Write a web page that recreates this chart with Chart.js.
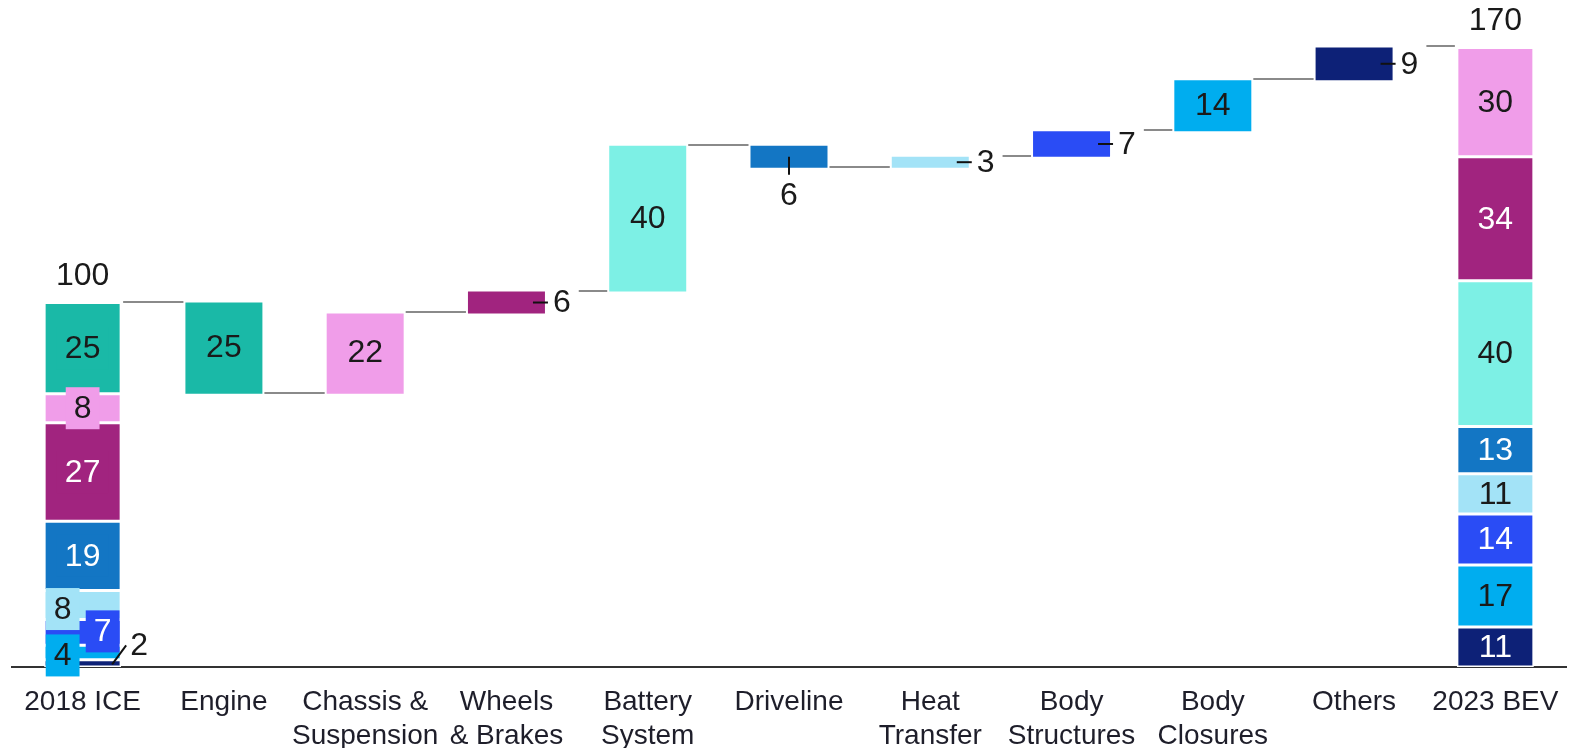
<!DOCTYPE html>
<html>
<head>
<meta charset="utf-8">
<script src="https://cdn.jsdelivr.net/npm/chart.js@4.4.0/dist/chart.umd.min.js"></script>
<style>
  body { margin: 0; background: #fff; }
  #wrap { width: 1570px; height: 748px; }
</style>
</head>
<body>
<div id="wrap"><canvas id="waterfall"></canvas></div>
<script>
// x categories of the waterfall
const categories = ['2018 ICE', 'Engine', ['Chassis &', 'Suspension'], ['Wheels', '& Brakes'],
    ['Battery', 'System'], 'Driveline', ['Heat', 'Transfer'], ['Body', 'Structures'],
    ['Body', 'Closures'], 'Others', '2023 BEV'];

// components, in stacking order (bottom to top)
const components = ['Others', 'Body Closures', 'Body Structures', 'Heat Transfer', 'Driveline',
    'Battery System', 'Wheels & Brakes', 'Chassis & Suspension', 'Engine'];
const ice2018 = [2, 4, 7, 8, 19, 0, 27, 8, 25];
const bev2023 = [11, 17, 14, 11, 13, 40, 34, 30, 0];

// steps between the two totals, one per middle category
const stepValues = [-25, 22, 6, 40, -6, 3, 7, 14, 9];
const stepComponent = [8, 7, 6, 5, 4, 3, 2, 1, 0];

const colors = ['#0d2177', '#00adef', '#2a4cf5', '#a3e3f7', '#1376c4',
    '#7df0e5', '#a1247f', '#f09de9', '#1ab9a7'];
const whiteText = [true, false, true, false, true, false, true, false, false];
const DARK = '#1a1a1a';

function stackRanges(values) {
    let acc = 0;
    return values.map((v) => {
        const r = [acc, acc + v];
        acc += v;
        return v ? r : null;
    });
}

const iceRanges = stackRanges(ice2018);
const bevRanges = stackRanges(bev2023);
const totals = [ice2018.reduce((a, b) => a + b, 0)];
stepValues.forEach((v) => totals.push(totals[totals.length - 1] + v));
const bevTotal = bev2023.reduce((a, b) => a + b, 0);

const datasets = components.map((name, c) => {
    const data = categories.map(() => null);
    data[0] = iceRanges[c];
    const k = stepComponent.indexOf(c);
    data[k + 1] = [totals[k], totals[k + 1]];
    data[categories.length - 1] = bevRanges[c];
    return {
        label: name,
        data: data,
        backgroundColor: colors[c],
        borderColor: '#ffffff',
        borderWidth: (ctx) => (ctx.dataIndex === 0 || ctx.dataIndex === categories.length - 1) ? 1.5 : 0,
        borderSkipped: false,
        grouped: false,
        barPercentage: 0.545,
        categoryPercentage: 1
    };
});

// where the step labels go
const stepLabelPos = ['in', 'in', 'right', 'in', 'below', 'right', 'right', 'in', 'right'];
// nudges for the crowded labels at the bottom of the 2018 column
const iceShift = { 1: [-20, 3], 2: [20, -1], 3: [-20, 4] };

function barBox(chart, i) {
    for (let d = 0; d < chart.data.datasets.length; d++) {
        if (chart.data.datasets[d].data[i]) {
            const el = chart.getDatasetMeta(d).data[i];
            const top = Math.min(el.y, el.base), bottom = Math.max(el.y, el.base);
            return { x: el.x, left: el.x - el.width / 2, right: el.x + el.width / 2, top, bottom };
        }
    }
    return null;
}

function drawText(ctx, str, x, y, color, align) {
    ctx.fillStyle = color;
    ctx.textAlign = align || 'center';
    ctx.textBaseline = 'middle';
    ctx.fillText(str, x, y);
}

function tick(ctx, x1, y1, x2, y2) {
    ctx.strokeStyle = '#111';
    ctx.lineWidth = 2;
    ctx.beginPath();
    ctx.moveTo(x1, y1);
    ctx.lineTo(x2, y2);
    ctx.stroke();
}

const waterfallLabels = {
    id: 'waterfallLabels',
    afterDraw(chart) {
        const ctx = chart.ctx;
        const yScale = chart.scales.y;
        const n = categories.length;
        ctx.save();
        ctx.font = "32px 'Liberation Sans', Arial, sans-serif";

        const labelEnd = [];
        // step labels
        stepValues.forEach((v, k) => {
            const i = k + 1;
            const b = barBox(chart, i);
            const cy = (b.top + b.bottom) / 2;
            const c = stepComponent[k];
            const str = String(Math.abs(v));
            const pos = stepLabelPos[k];
            if (pos === 'in') {
                drawText(ctx, str, b.x, cy, whiteText[c] ? '#fff' : DARK);
            }
            else if (pos === 'right') {
                tick(ctx, b.right - 12, cy, b.right + 3, cy);
                drawText(ctx, str, b.right + 8, cy + 1, DARK, 'left');
                labelEnd[i] = b.right + 8 + ctx.measureText(str).width;
            }
            else {
                tick(ctx, b.x, cy, b.x, b.bottom + 7);
                drawText(ctx, str, b.x, b.bottom + 29, DARK);
            }
        });

        // connectors
        for (let i = 0; i < n - 1; i++) {
            const a = barBox(chart, i), b = barBox(chart, i + 1);
            const level = i < totals.length ? totals[i] : bevTotal;
            const yy = Math.round(yScale.getPixelForValue(level)) - 1;
            const start = labelEnd[i] ? labelEnd[i] + 8 : a.right + 2;
            ctx.strokeStyle = '#8a8a8a';
            ctx.lineWidth = 2;
            ctx.beginPath();
            ctx.moveTo(start, yy);
            ctx.lineTo(b.left - 2, yy);
            ctx.stroke();
        }

        // stacked columns
        [[0, ice2018, iceRanges], [n - 1, bev2023, bevRanges]].forEach(([i, values, ranges]) => {
            const b = barBox(chart, i);
            values.forEach((v, c) => {
                if (!v) {
                    return;
                }
                const y0 = yScale.getPixelForValue(ranges[c][0]);
                const y1 = yScale.getPixelForValue(ranges[c][1]);
                const cy = (y0 + y1) / 2;
                const str = String(v);
                if (i === 0 && c === 0) {
                    tick(ctx, b.right - 9, cy + 1, b.right + 5, cy - 18);
                    drawText(ctx, str, b.right + 9, cy - 17, DARK, 'left');
                    return;
                }
                let x = b.x, y = cy;
                if (i === 0) {
                    const s = iceShift[c] || [0, 0];
                    x += s[0];
                    y += s[1];
                    const w = ctx.measureText(str).width;
                    ctx.fillStyle = colors[c];
                    ctx.fillRect(x - w / 2 - 8, y - 21, w + 16, 42);
                }
                drawText(ctx, str, x, y + 1, whiteText[c] ? '#fff' : DARK);
            });
            const total = values.reduce((s, v) => s + v, 0);
            drawText(ctx, String(total), b.x, yScale.getPixelForValue(total) - 26, DARK);
        });
        ctx.restore();
    }
};

Chart.defaults.font.family = "'Liberation Sans', Arial, sans-serif";

new Chart(document.getElementById('waterfall'), {
    type: 'bar',
    data: {
        labels: categories,
        datasets: datasets
    },
    options: {
        responsive: true,
        maintainAspectRatio: false,
        animation: false,
        layout: {
            padding: { left: 12, right: 4, top: 0, bottom: 0 }
        },
        scales: {
            x: {
                grid: { display: false, drawTicks: false },
                border: { display: true, color: '#333', width: 2 },
                ticks: {
                    color: '#1e1e2a',
                    font: { size: 28, lineHeight: 1.22 },
                    padding: 18,
                    maxRotation: 0,
                    autoSkip: false
                },
                afterFit(scale) {
                    scale.height = 81;
                    scale.paddingLeft = 0;
                    scale.paddingRight = 0;
                }
            },
            y: {
                display: false,
                min: 0,
                max: 183
            }
        },
        plugins: {
            legend: { display: false },
            tooltip: { enabled: false }
        }
    },
    plugins: [waterfallLabels]
});
</script>
</body>
</html>
